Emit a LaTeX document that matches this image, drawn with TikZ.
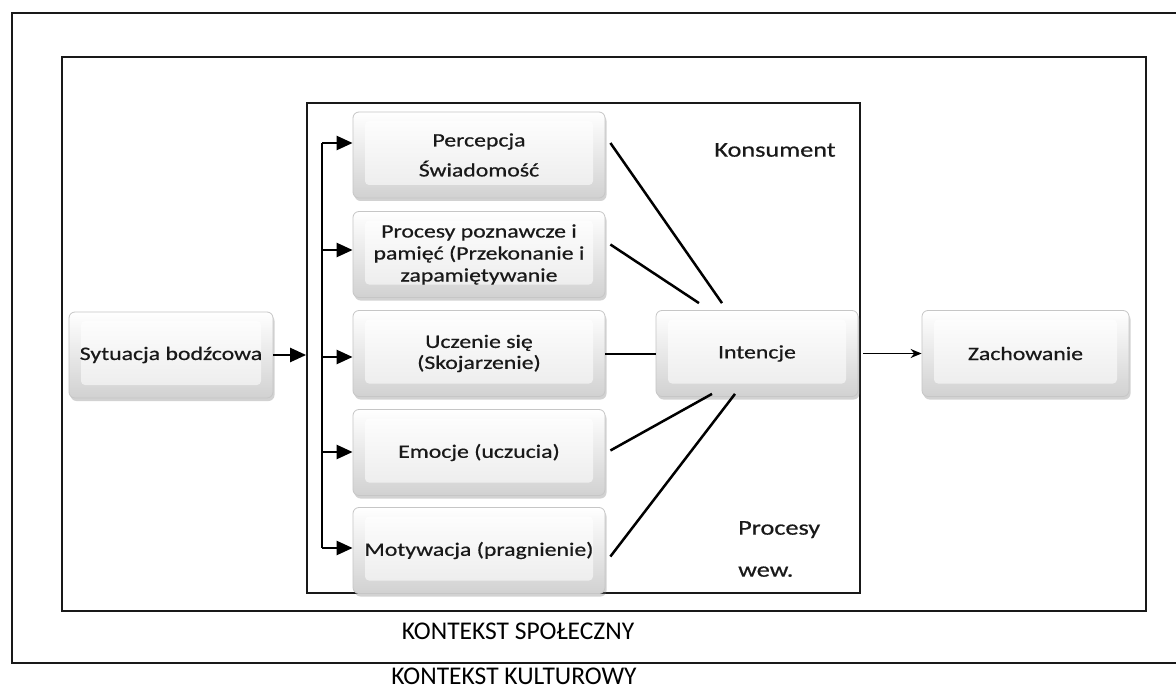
\documentclass[tikz,border=0pt]{standalone}
\usepackage{fontspec}
\usetikzlibrary{arrows.meta,shadows}
\newfontfamily\boxfont[FakeStretch=1.25,FakeBold=0.6]{Carlito}
\newfontfamily\plainfont{Carlito}
\begin{document}
\begin{tikzpicture}[x=1pt,y=-1pt,
  frame/.style={draw=black!90, line width=1.8pt},
  stage/.style={rounded corners=6pt, draw=gray!45, line width=0.8pt,
    top color=white, bottom color=gray!36,
    drop shadow={shadow xshift=1.5pt, shadow yshift=-3pt, opacity=0.35},
    minimum height=86pt, align=center, inner sep=0pt, text=black!90,
    font=\boxfont\fontsize{19}{23}\selectfont,
    path picture={\shade[top color=white, bottom color=gray!16, rounded corners=4pt]
      ([xshift=12pt,yshift=-9pt]path picture bounding box.north west) rectangle
      ([xshift=-12pt,yshift=13pt]path picture bounding box.south east);}},
  link/.style={line width=2.5pt, draw=black},
  bigarrow/.style={line width=2.5pt, -{Triangle[length=16pt,width=14pt]}},
  thinarrow/.style={line width=1.5pt, -{Stealth[length=11pt,width=9pt]}},
  label/.style={font=\boxfont\fontsize{21}{26}\selectfont, text=black!90, inner sep=0pt},
  context/.style={font=\plainfont\fontsize{25.5}{30}\selectfont, inner sep=0pt}]

% page
\clip (0,0) rectangle (1176,690);
\fill[white] (0,0) rectangle (1176,690);

% nested context frames
\draw[frame] (12,13) rectangle (1200,663);
\draw[frame] (62,57) rectangle (1146,611);
\node[frame, minimum width=553pt, minimum height=490pt, inner sep=0pt] (cons) at (583.5,348) {};

% context and consumer labels
\node[label] (kons) at (775,150) {Konsument};
\node[label, anchor=west, align=left, font=\boxfont\fontsize{21}{42}\selectfont] (wew) at (738,549) {Procesy\\wew.};
\node[context] (spol) at (518,631) {KONTEKST SPOŁECZNY};
\node[context] (kult) at (514,676) {KONTEKST KULTUROWY};

% stages
\node[stage, minimum width=204pt] (syt) at (171,355) {Sytuacja bodźcowa};
\node[stage, minimum width=252pt, font=\boxfont\fontsize{19}{30}\selectfont] (perc) at (479,155) {Percepcja\\Świadomość};
\node[stage, minimum width=252pt, font=\boxfont\fontsize{19}{22}\selectfont] (proc) at (479,254.5) {Procesy poznawcze i\\pamięć (Przekonanie i\\zapamiętywanie};
\node[stage, minimum width=252pt, font=\boxfont\fontsize{19}{21}\selectfont] (ucz) at (479,353.5) {Uczenie się\\(Skojarzenie)};
\node[stage, minimum width=252pt] (emo) at (479,452.5) {Emocje (uczucia)};
\node[stage, minimum width=252pt] (mot) at (479,550.5) {Motywacja (pragnienie)};
\node[stage, minimum width=202pt] (int) at (757,353.5) {Intencje};
\node[stage, minimum width=207pt] (zach) at (1025.5,353.5) {Zachowanie};

% stimulus into the consumer
\draw[bigarrow] (syt.east) -- (syt.east -| cons.west);

% distribution bus to the inner processes
\coordinate (b1) at (322,143);
\coordinate (b2) at (322,250);
\coordinate (b3) at (322,357);
\coordinate (b4) at (322,452);
\coordinate (b5) at (322,548);
\draw[link] (b1) -- (b5);
\draw[bigarrow] (b1) -- (b1 -| perc.west);
\draw[bigarrow] (b2) -- (b2 -| proc.west);
\draw[bigarrow] (b3) -- (b3 -| ucz.west);
\draw[bigarrow] (b4) -- (b4 -| emo.west);
\draw[bigarrow] (b5) -- (b5 -| mot.west);

% processes feeding the intention
\draw[link] ([shift={(5,-12)}]perc.east) -- ([shift={(-35,-7)}]int.north);
\draw[link] ([shift={(5,-10)}]proc.east) -- ([shift={(-58,-7)}]int.north);
\draw[link, line width=2pt] (ucz.east) -- (int.west);
\draw[link] ([shift={(5,-2)}]emo.east) -- ([shift={(-45,-3)}]int.south);
\draw[link] ([shift={(5,6)}]mot.east) -- ([shift={(-22,-3)}]int.south);

% intention into behaviour
\draw[thinarrow] ([shift={(5,0)}]int.east) -- (zach.west);
\end{tikzpicture}
\end{document}
